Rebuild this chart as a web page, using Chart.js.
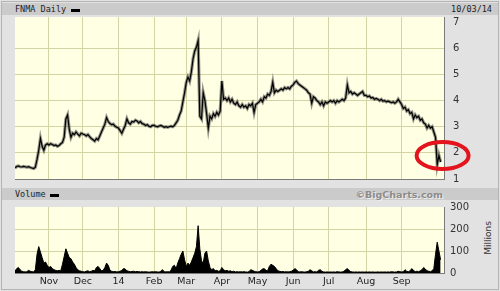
<!DOCTYPE html>
<html>
<head>
<meta charset="utf-8">
<script src="https://cdn.jsdelivr.net/npm/chart.js@4.4.1/dist/chart.umd.min.js"></script>
<style>
  body { margin: 0; background: #fff; }
  #wrap { position: relative; width: 500px; height: 291px; background: #e2e2e2; overflow: hidden; font-family: "DejaVu Sans", sans-serif; }
  #frame { position: absolute; left: 1px; top: 1px; width: 496px; height: 287px; border: 1px solid #b4b4b4; }
  .bar { position: absolute; left: 2px; width: 496px; height: 12px; background: #cbcbcb; }
  .title { position: absolute; font: 8.5px "DejaVu Sans Mono", monospace; color: #222; white-space: nowrap; }
  .dash { position: absolute; width: 9px; height: 3px; background: #000; }
  #credit { position: absolute; right: 57px; top: 189px; font: bold 9.5px "DejaVu Sans", sans-serif; color: #8c8c8c; text-shadow: 1px 1px 0 #eee; }
  #millions { position: absolute; left: 488px; top: 238px; font: 9px "DejaVu Sans", sans-serif; color: #333; transform: translate(-50%, -50%) rotate(-90deg); white-space: nowrap; }
  canvas { position: absolute; left: 0; }
</style>
</head>
<body>
<div id="wrap">
  <div id="frame"></div>
  <div class="bar" style="top:3px"></div>
  <div class="title" style="left:15px;top:4px">FNMA Daily</div>
  <div class="dash" style="left:71px;top:9px"></div>
  <div class="title" style="right:8px;top:4px">10/03/14</div>
  <div class="bar" style="top:188px"></div>
  <div class="title" style="left:15px;top:189px">Volume</div>
  <div class="dash" style="left:50px;top:194px"></div>
  <div id="credit">©BigCharts.com</div>
  <div id="millions">Millions</div>
  <canvas id="volume" width="500" height="108" style="top:183px"></canvas>
  <canvas id="price" width="500" height="194" style="top:0"></canvas>
</div>
<script>
// daily closes, Oct 4 2013 .. Oct 3 2014
const closes = [
  // Oct
  1.42,1.48,1.50,1.47,1.46,1.48,1.47,1.45,1.47,1.44,1.42,1.40,1.45,1.75,2.10,2.55,2.25,2.10,2.30,2.35,
  // Nov
  2.30,2.35,2.32,2.28,2.30,2.25,2.28,2.35,2.40,2.60,3.30,3.45,2.90,2.60,2.75,2.70,2.80,2.72,2.65,2.75,
  // Dec
  2.72,2.70,2.65,2.70,2.62,2.55,2.50,2.45,2.55,2.50,2.65,2.80,2.95,3.10,3.35,3.20,3.12,3.08,3.10,3.02,2.98,
  // Jan
  2.95,2.85,2.75,2.90,3.05,3.30,3.15,3.10,3.20,3.18,3.25,3.22,3.15,3.20,3.12,3.10,3.05,3.08,3.02,3.00,3.05,
  // Feb
  3.05,3.02,3.00,3.03,3.05,3.02,2.98,3.00,2.98,3.00,3.02,3.00,3.05,3.15,3.25,3.45,3.60,3.95,4.30,
  // Mar
  4.70,4.90,4.75,5.10,5.60,5.90,6.05,6.30,3.40,3.30,4.30,4.00,3.50,2.95,3.40,3.30,3.50,3.40,3.55,3.45,3.60,
  // Apr
  4.75,4.05,4.10,4.00,4.10,3.95,4.05,3.90,3.85,3.95,3.80,3.75,3.85,3.75,3.80,3.70,3.85,3.80,3.90,3.55,3.85,
  // May
  3.90,3.95,4.05,3.95,4.15,4.10,4.25,4.20,4.35,4.70,4.30,4.40,4.35,4.40,4.45,4.40,4.50,4.45,4.50,4.45,4.55,
  // Jun
  4.60,4.70,4.75,4.65,4.60,4.55,4.50,4.45,4.40,4.30,4.25,3.90,4.15,4.10,4.00,3.95,3.85,3.95,3.80,3.95,3.90,
  // Jul
  3.95,4.00,3.95,4.00,3.90,4.00,3.95,4.00,4.05,4.00,4.10,4.60,4.30,4.35,4.25,4.30,4.25,4.20,4.25,4.30,4.35,4.20,
  // Aug
  4.20,4.15,4.18,4.10,4.12,4.05,4.08,4.05,4.00,4.05,3.98,4.00,3.95,3.98,3.95,3.92,3.95,3.90,3.95,4.05,3.95,
  // Sep
  3.85,3.70,3.75,3.60,3.65,3.50,3.55,3.30,3.45,3.35,3.40,3.25,3.30,3.15,3.10,2.95,3.05,2.95,3.00,2.80,2.60,
  // Oct
  1.55,1.90,1.65
];
// daily volume in millions
const volumes = [
  8,20,25,15,8,6,5,6,12,8,6,5,15,85,120,95,70,45,50,35,
  25,30,20,15,12,10,12,10,40,75,110,90,70,65,50,40,25,15,10,8,
  6,5,8,10,6,8,12,10,25,30,20,10,12,25,45,35,12,8,6,7,5,
  6,8,12,20,18,10,8,6,7,8,6,7,6,5,6,5,6,5,4,5,6,
  5,6,5,4,8,15,6,5,6,5,12,30,35,20,45,65,85,100,60,
  30,45,35,50,70,90,120,215,110,55,45,90,100,55,25,15,20,10,12,8,10,
  25,15,10,12,8,10,6,8,5,6,5,6,5,6,5,4,6,15,12,8,6,
  5,6,12,18,20,12,10,30,40,35,30,20,10,8,6,7,5,6,5,6,8,
  12,20,15,6,5,6,5,4,6,8,15,10,5,6,5,12,15,8,5,4,5,
  4,5,4,5,4,6,5,4,5,8,15,20,12,6,5,4,5,4,5,4,5,4,
  5,4,5,4,5,4,4,5,4,5,4,5,4,5,4,6,5,4,5,8,6,
  5,6,15,8,6,10,20,12,6,8,6,10,15,25,18,10,8,6,10,20,85,
  140,100,60
];
// first trading day of each month (index into the daily arrays)
const monthStarts = [20, 40, 61, 82, 101, 122, 143, 164, 185, 207, 228];
const monthLabels = ["Nov", "Dec", "14", "Feb", "Mar", "Apr", "May", "Jun", "Jul", "Aug", "Sep"];
const priceTicks = [1, 2, 3, 4, 5, 6, 7];
const volumeTicks = [0, 100, 200, 300];

const gridColor = "#d3d3a4";
const hidden = "rgba(0,0,0,0)";

// yellow plot background
const plotBg = {
  id: "plotBg",
  beforeDraw(chart) {
    const { ctx, chartArea: a } = chart;
    ctx.save();
    ctx.fillStyle = "#ffffe4";
    ctx.fillRect(a.left, a.top, a.right - a.left, a.bottom - a.top);
    ctx.restore();
  }
};

// red ring around the last few days
const ring = {
  id: "ring",
  afterDraw(chart) {
    const { ctx, scales: { x, y } } = chart;
    const cx = x.getPixelForValue(closes.length - 1) + 2;
    const cy = y.getPixelForValue(Math.max(...closes.slice(-3)));
    ctx.save();
    ctx.strokeStyle = "#e3141c";
    ctx.lineWidth = 4;
    ctx.beginPath();
    ctx.ellipse(cx, cy, 26, 13.5, 0, 0, Math.PI * 2);
    ctx.stroke();
    ctx.restore();
  }
};

function xScale(showLabels, height) {
  return {
    type: "linear",
    min: 0,
    max: 253,
    afterBuildTicks: s => { s.ticks = monthStarts.map(v => ({ value: v })); },
    afterFit: s => { s.height = height; },
    ticks: {
      display: showLabels,
      autoSkip: false,
      maxRotation: 0,
      padding: 3,
      color: "#222",
      font: { family: "DejaVu Sans", size: 9.5 },
      callback: v => monthLabels[monthStarts.indexOf(v)]
    },
    grid: { color: gridColor, drawTicks: false },
    border: { color: "#7a7a7a" }
  };
}

function yScale(min, max, ticks, pad) {
  return {
    position: "right",
    min: min,
    max: max,
    afterBuildTicks: s => { s.ticks = ticks.map(v => ({ value: v })); },
    afterFit: s => { s.width = 56; },
    ticks: { padding: pad, color: "#333", font: { family: "DejaVu Sans", size: 10 } },
    grid: {
      drawTicks: false,
      color: c => (c.tick.value === min || c.tick.value === ticks[ticks.length - 1]) ? hidden : gridColor
    },
    border: { color: "#7a7a7a" }
  };
}

const common = {
  responsive: false,
  animation: false,
  plugins: { legend: { display: false }, tooltip: { enabled: false } },
  elements: { point: { radius: 0 }, line: { tension: 0 } }
};

const pricePoints = closes.map((v, i) => ({ x: i, y: v }));

// the canvas runs 12px past the plot so the bottom label padding fits below it
new Chart(document.getElementById("price"), {
  type: "line",
  data: {
    datasets: [
      { data: pricePoints, borderColor: "#000", borderWidth: 1.2 },
      { data: pricePoints, borderColor: "rgba(60,60,60,0.55)", borderWidth: 3.2 }
    ]
  },
  options: {
    ...common,
    layout: { padding: { left: 15, top: 17, right: 0, bottom: 0 } },
    scales: { x: xScale(false, 15), y: yScale(1, 7.2, priceTicks, 9) }
  },
  plugins: [plotBg, ring]
});

new Chart(document.getElementById("volume"), {
  type: "line",
  data: {
    datasets: [{
      data: volumes.map((v, i) => ({ x: i, y: v })),
      borderColor: "#000",
      borderWidth: 1,
      backgroundColor: "#000",
      fill: "origin"
    }]
  },
  options: {
    ...common,
    layout: { padding: { left: 15, top: 24, right: 0, bottom: 0 } },
    scales: { x: xScale(true, 18), y: yScale(0, 300, volumeTicks, 6) }
  },
  plugins: [plotBg]
});
</script>
</body>
</html>
